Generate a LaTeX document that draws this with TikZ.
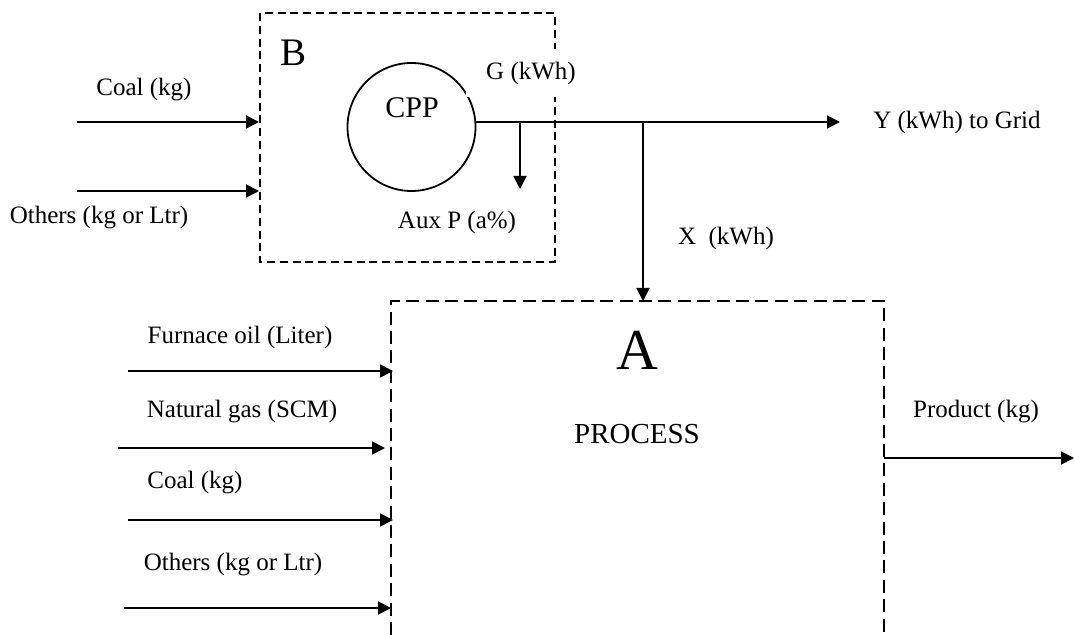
\documentclass[tikz,border=0pt]{standalone}
\usepackage{fontspec}
\setmainfont{Liberation Serif}
\usetikzlibrary{arrows.meta}
\begin{document}
\begin{tikzpicture}[x=0.5pt,y=-0.5pt,
  lbl/.style={font=\fontsize{12.5}{15}\selectfont, inner sep=0pt},
  flow/.style={line width=0.9pt, -{Triangle[length=6.5pt,width=6.5pt]}},
  plain/.style={line width=0.9pt},
  bbox/.style={line width=1.2pt, dash pattern=on 4pt off 2.4pt},
  abox/.style={line width=1.2pt, dash pattern=on 6.5pt off 3.2pt}]
\useasboundingbox (0,0) rectangle (1074,635);

% boxes
\draw[bbox] (260,13) rectangle (555,262);
\draw[abox] (391,635) -- (391,301) -- (884,301) -- (884,635);

% CPP circle
\coordinate (cpp) at (411.5,127);
\draw[plain] (cpp) circle[radius=64];

% labels
\node[font=\fontsize{19.5}{20}\selectfont, inner sep=0pt] (Blbl) at (294,53) {B};
\node[font=\fontsize{29}{30}\selectfont, inner sep=0pt] (Albl) at (637,350) {A};
\node[font=\fontsize{14.5}{16}\selectfont, inner sep=0pt] (proc) at (637,434) {PROCESS};

\node[lbl] (coalB) at (144,90) {Coal (kg)};
\node[lbl] (othB) at (99,218) {Others (kg or Ltr)};
\node[font=\fontsize{15}{17}\selectfont, inner sep=0pt] (cpplbl) at (412,108) {CPP};
\node[lbl, fill=white, inner xsep=10pt, inner ysep=6.5pt] (glbl) at (531,73) {G (kWh)};
\node[lbl] (aux) at (457,222) {Aux P (a\%)};
\node[lbl] (ylbl) at (957,122) {Y (kWh) to Grid};
\node[lbl] (xlbl) at (726,238) {X\ \ (kWh)};
\node[lbl] (prod) at (976,412) {Product (kg)};
\node[lbl] (furn) at (240,337) {Furnace oil (Liter)};
\node[lbl] (gas) at (242,412) {Natural gas (SCM)};
\node[lbl] (coalA) at (195,483) {Coal (kg)};
\node[lbl] (othA) at (233,565) {Others (kg or Ltr)};

% coordinates
\coordinate (b1s) at (77,122);   \coordinate (b1e) at (259,122);
\coordinate (b2s) at (77,191);   \coordinate (b2e) at (259,191);
\coordinate (gs) at (475.3,122); \coordinate (ye) at (840,122);
\coordinate (auxs) at (520,122); \coordinate (auxe) at (520,189);
\coordinate (xs) at (643,122);   \coordinate (xe) at (643,301);
\coordinate (a1s) at (128,371);  \coordinate (a1e) at (393,371);
\coordinate (a2s) at (118,448);  \coordinate (a2e) at (385,448);
\coordinate (a3s) at (128,520);  \coordinate (a3e) at (393,520);
\coordinate (a4s) at (124,608);  \coordinate (a4e) at (391,608);
\coordinate (ps) at (884,458);   \coordinate (pe) at (1074,458);

% connectors
\draw[flow] (b1s) -- (b1e);
\draw[flow] (b2s) -- (b2e);
\draw[flow] (gs) -- (ye);
\draw[flow] (auxs) -- (auxe);
\draw[flow] (xs) -- (xe);
\draw[flow] (a1s) -- (a1e);
\draw[flow] (a2s) -- (a2e);
\draw[flow] (a3s) -- (a3e);
\draw[flow] (a4s) -- (a4e);
\draw[flow] (ps) -- (pe);
\end{tikzpicture}
\end{document}
